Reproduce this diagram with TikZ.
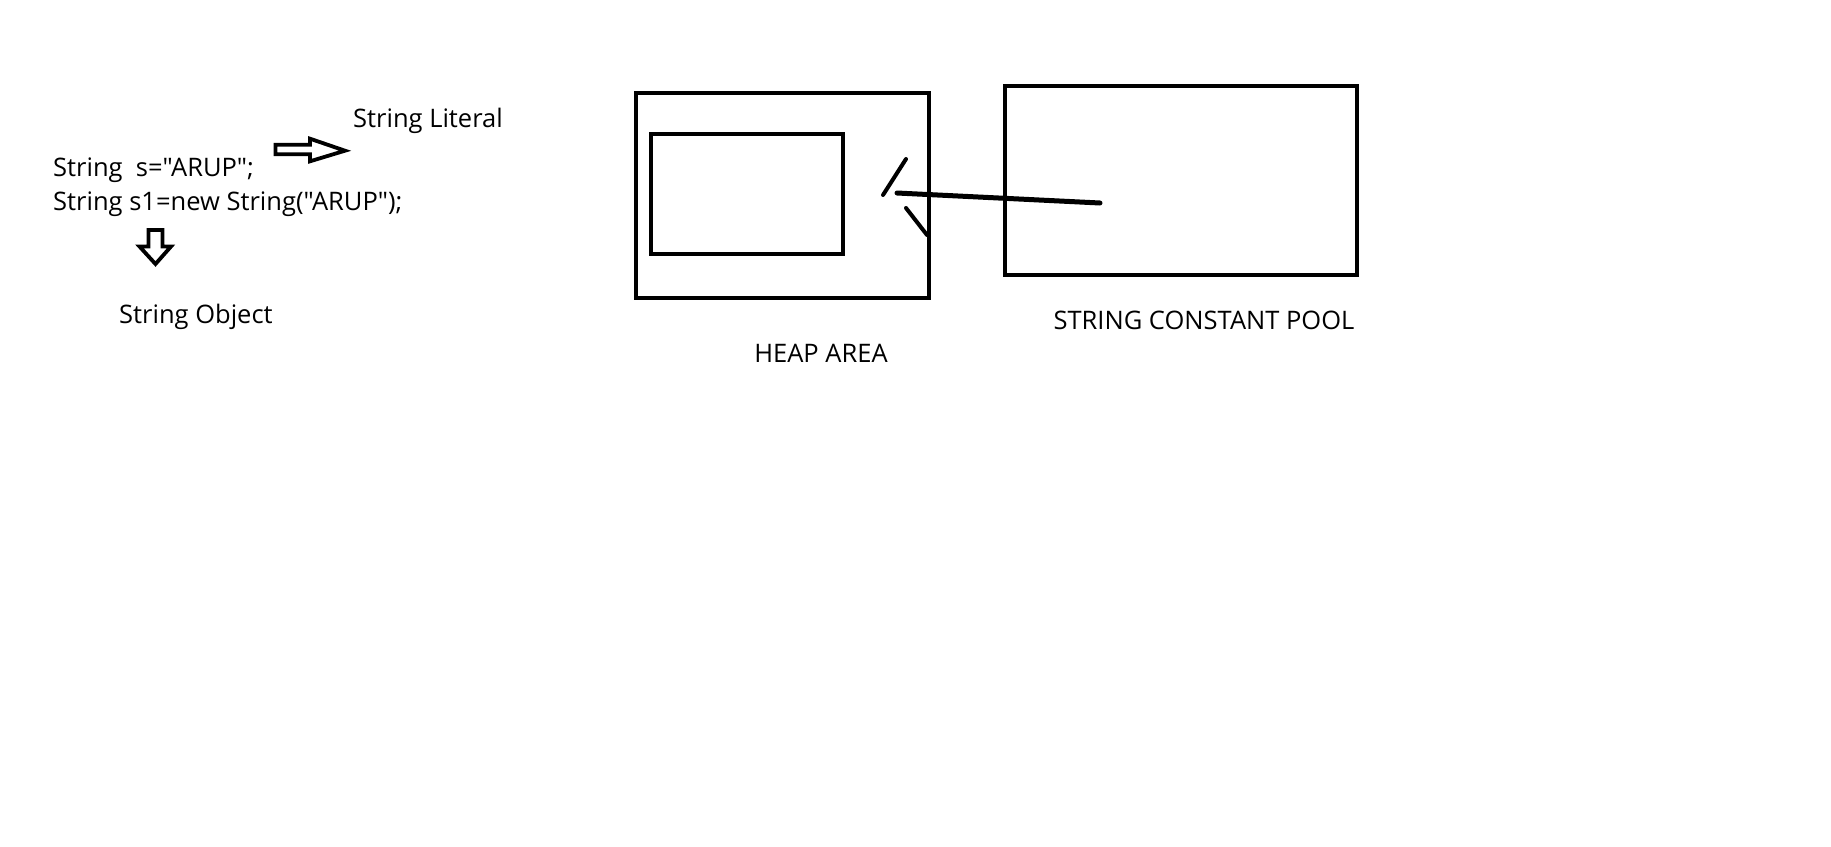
\documentclass[tikz,border=0pt]{standalone}
\usepackage{fontspec}
\setmainfont{Open Sans}[Ligatures=TeXOff]
\usetikzlibrary{positioning}

\tikzset{
    txt/.style={font=\fontsize{25.5}{30}\selectfont, inner sep=0pt},
    box/.style={draw, line width=3.8pt, inner sep=0pt},
    hollow/.style={draw, line width=3.8pt, line join=miter}
}

\begin{document}
\begin{tikzpicture}[x=1pt, y=-1pt]
\useasboundingbox (0,0) rectangle (1831,846);

% Code lines
\node[txt, anchor=base west] (code1) at (53,176.5) {String~~s="ARUP";};
\node[txt, anchor=base west] (code2) at (53,210) {String s1=new String("ARUP");};

% Labels for the two lines
\node[txt, anchor=base west] (literal) at (353,127) {String Literal};
\node[txt, anchor=base west] (object) at (119,323) {String Object};

% Hollow arrows
\draw[hollow] (275.5,144.7) -- (310,144.7) -- (310,138.7) -- (345,150.7) -- (310,161.3) -- (310,154.3) -- (275.5,154.3) -- cycle;
\draw[hollow] (148.5,230) -- (162.5,230) -- (162.5,246.5) -- (171,246.5) -- (155.5,264) -- (139.5,246.5) -- (148.5,246.5) -- cycle;

% Heap area
\node[box, minimum width=293pt, minimum height=205pt] (heap) at (782.5,195.5) {};
\node[box, minimum width=192pt, minimum height=120pt] (heapobj) at (747,194) {};
\node[txt, anchor=base] (heaplabel) at (821,362) {HEAP AREA};

% String constant pool
\node[box, minimum width=352pt, minimum height=189pt] (pool) at (1181,180.5) {};
\node[txt, anchor=base] (poollabel) at (1204,329) {STRING CONSTANT POOL};

% Pointer from pool to heap
\coordinate (ptrtail) at (1100,203);
\coordinate (ptrhead) at (897,193);
\draw[line width=5pt, line cap=round] (ptrtail) -- (ptrhead);
\draw[line width=4pt, line cap=round] (883,195) -- (906,159);
\draw[line width=4pt, line cap=round] (906,208) -- (927,235);

\end{tikzpicture}
\end{document}
